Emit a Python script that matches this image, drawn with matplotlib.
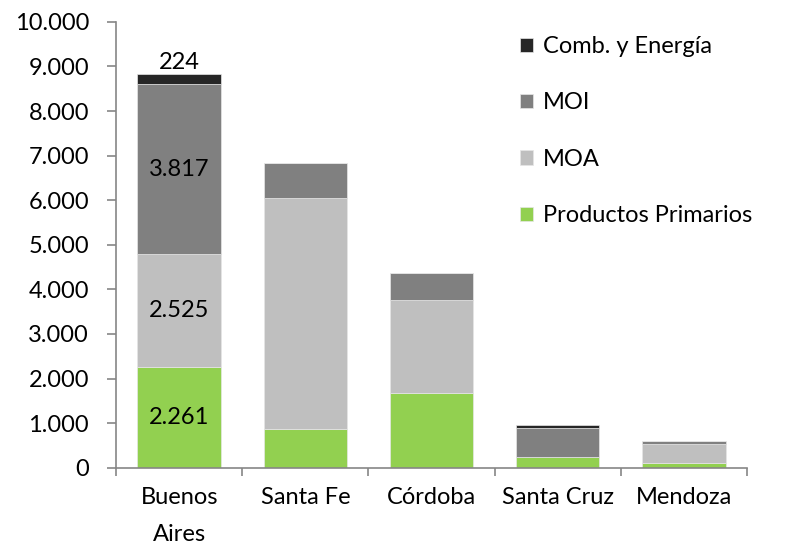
import matplotlib
matplotlib.use("Agg")
import matplotlib.pyplot as plt
import numpy as np
from matplotlib.ticker import FuncFormatter, FixedLocator

provincias = ["Buenos\nAires", "Santa Fe", "Córdoba", "Santa Cruz", "Mendoza"]
productos_primarios = [2261, 864, 1666, 242, 108]
moa = [2525, 5178, 2094, 0, 426]
moi = [3817, 786, 613, 651, 67]
comb_energia = [224, 0, 0, 60, 0]
series_names = ["Productos Primarios", "MOA", "MOI", "Comb. y Energía"]
colors = ["#92D050", "#BFBFBF", "#808080", "#262626"]

plt.rcParams['font.family'] = ['Lato', 'DejaVu Sans']
FS = 17

fig = plt.figure(figsize=(7.85, 5.48), dpi=100)
ax = fig.add_axes([0.1478, 0.1465, 0.804, 0.8135])

x = np.arange(len(provincias))
width = 0.66
bottom = np.zeros(len(provincias))
handles = []
for vals, name, c in zip([productos_primarios, moa, moi, comb_energia], series_names, colors):
    v = np.array(vals, dtype=float)
    b = ax.bar(x, v, width, bottom=bottom, color=c, label=name,
               edgecolor="#e6e6e6", linewidth=0.5)
    handles.append(b)
    bottom = bottom + v

# data labels for Buenos Aires
fmt = lambda v: f"{int(v):,}".replace(",", ".")
b0 = 0
for vals in [productos_primarios, moa, moi]:
    ax.text(0, b0 + vals[0] / 2, fmt(vals[0]), ha="center", va="center",
            fontsize=FS, color="black")
    b0 += vals[0]
ax.annotate(fmt(comb_energia[0]), xy=(0, b0 + comb_energia[0]), xytext=(0, 1),
            textcoords="offset points", ha="center", va="bottom", fontsize=FS)

ax.set_xlim(-0.5, len(provincias) - 0.5)
ax.set_ylim(0, 10000)
ax.set_yticks(np.arange(0, 10001, 1000))
ax.yaxis.set_major_formatter(FuncFormatter(lambda v, p: fmt(v)))
ax.set_xticks(x)
ax.set_xticklabels(provincias, fontsize=FS, linespacing=1.95)
ax.xaxis.set_minor_locator(FixedLocator(np.arange(-0.5, len(provincias), 1.0)))
ax.tick_params(axis="x", which="major", length=0, pad=14)
ax.tick_params(axis="x", which="minor", length=6, width=1.2, color="#868686", direction="out")
ax.tick_params(axis="y", labelsize=FS, length=6.5, width=1.2, color="#868686", pad=13)

for s in ["top", "right"]:
    ax.spines[s].set_visible(False)
for s in ["left", "bottom"]:
    ax.spines[s].set_color("#868686")
    ax.spines[s].set_linewidth(1.2)

leg = fig.legend(handles[::-1], series_names[::-1], loc="upper left",
                 bbox_to_anchor=(520 / 785, 1 - 36 / 548), frameon=False, fontsize=FS,
                 labelspacing=1.5, handlelength=0.55, handleheight=0.55,
                 handletextpad=0.42, borderpad=0, borderaxespad=0)

fig.savefig("out.png", dpi=100)
